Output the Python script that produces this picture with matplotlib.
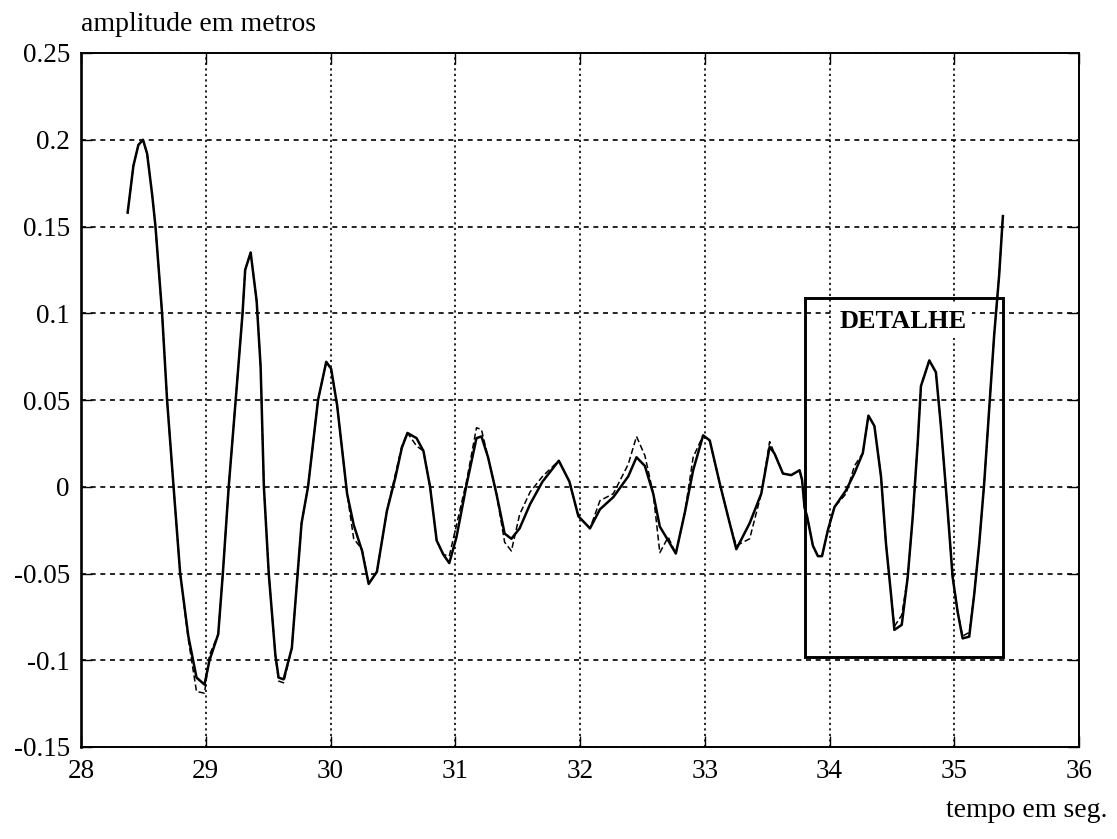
import matplotlib
matplotlib.use("Agg")
import matplotlib.pyplot as plt
from matplotlib.patches import Rectangle

# time samples (s)
tempo = [28.374, 28.42, 28.46, 28.497, 28.53, 28.571, 28.597, 28.65, 28.69, 28.742,
         28.795, 28.86, 28.926, 28.99, 29.03, 29.10, 29.137, 29.184, 29.24, 29.295,
         29.316, 29.36, 29.408, 29.44, 29.466, 29.505, 29.558, 29.584, 29.624, 29.69,
         29.768, 29.82, 29.90, 29.966, 30.005, 30.053, 30.133, 30.186, 30.253, 30.306,
         30.372, 30.452, 30.519, 30.572, 30.617, 30.69, 30.745, 30.798, 30.851, 30.904,
         30.952, 31.01, 31.09, 31.17, 31.21, 31.263, 31.33, 31.396, 31.45, 31.516,
         31.60, 31.70, 31.83, 31.915, 31.987, 32.08, 32.16, 32.267, 32.387, 32.453,
         32.52, 32.587, 32.64, 32.707, 32.768, 32.84, 32.907, 32.987, 33.04, 33.12,
         33.20, 33.253, 33.36, 33.453, 33.52, 33.56, 33.627, 33.693, 33.76, 33.78,
         33.80, 33.82, 33.867, 33.907, 33.94, 33.987, 34.04, 34.133, 34.20, 34.267,
         34.312, 34.36, 34.413, 34.453, 34.493, 34.52, 34.579, 34.627, 34.667, 34.707,
         34.733, 34.80, 34.853, 34.893, 34.947, 34.987, 35.027, 35.067, 35.12, 35.16,
         35.20, 35.24, 35.28, 35.32, 35.36, 35.39]

# measured amplitude (m), solid line
amp_medida = [0.158, 0.185, 0.197, 0.200, 0.192, 0.168, 0.150, 0.100, 0.050, 0.000,
              -0.050, -0.086, -0.110, -0.114, -0.100, -0.085, -0.050, 0.000, 0.050, 0.100,
              0.125, 0.135, 0.107, 0.069, 0.000, -0.050, -0.097, -0.110, -0.111, -0.093,
              -0.021, 0.000, 0.050, 0.072, 0.068, 0.047, -0.004, -0.022, -0.037, -0.056,
              -0.049, -0.014, 0.005, 0.0225, 0.031, 0.028, 0.0206, 0.000, -0.031, -0.039,
              -0.044, -0.029, 0.001, 0.028, 0.029, 0.017, -0.004, -0.027, -0.030, -0.024,
              -0.010, 0.003, 0.015, 0.003, -0.017, -0.024, -0.013, -0.006, 0.006, 0.017,
              0.012, -0.004, -0.023, -0.031, -0.0385, -0.015, 0.0095, 0.0296, 0.0267, 0.002,
              -0.021, -0.036, -0.021, -0.004, 0.023, 0.019, 0.0076, 0.0067, 0.0095, 0.004,
              -0.012, -0.017, -0.034, -0.040, -0.040, -0.025, -0.0117, -0.002, 0.0078, 0.0194,
              0.041, 0.035, 0.0058, -0.033, -0.062, -0.0825, -0.0796, -0.052, -0.0175, 0.0252,
              0.058, 0.0728, 0.066, 0.035, -0.0136, -0.052, -0.072, -0.0874, -0.0864, -0.062,
              -0.033, 0.002, 0.0447, 0.0874, 0.122, 0.156]

# simulated amplitude (m), dashed line
amp_simulada = [0.158, 0.185, 0.197, 0.200, 0.192, 0.168, 0.150, 0.100, 0.050, 0.000,
                -0.050, -0.088, -0.118, -0.119, -0.097, -0.085, -0.050, 0.000, 0.050, 0.100,
                0.125, 0.135, 0.107, 0.069, 0.000, -0.050, -0.097, -0.112, -0.113, -0.093,
                -0.021, 0.000, 0.050, 0.072, 0.068, 0.047, -0.004, -0.030, -0.036, -0.056,
                -0.049, -0.014, 0.007, 0.0235, 0.031, 0.0235, 0.0206, 0.000, -0.031, -0.039,
                -0.040, -0.022, 0.003, 0.034, 0.033, 0.017, -0.004, -0.032, -0.037, -0.016,
                -0.003, 0.006, 0.015, 0.003, -0.017, -0.024, -0.008, -0.004, 0.013, 0.029,
                0.018, -0.004, -0.038, -0.029, -0.0385, -0.015, 0.017, 0.0296, 0.0267, 0.002,
                -0.021, -0.034, -0.030, -0.004, 0.026, 0.019, 0.0076, 0.0067, 0.0095, 0.004,
                -0.012, -0.017, -0.034, -0.040, -0.040, -0.025, -0.0117, -0.004, 0.012, 0.0194,
                0.041, 0.035, 0.0058, -0.033, -0.062, -0.0805, -0.074, -0.052, -0.0175, 0.0252,
                0.058, 0.0728, 0.066, 0.035, -0.0136, -0.052, -0.072, -0.086, -0.084, -0.062,
                -0.033, 0.002, 0.0447, 0.0874, 0.122, 0.156]

x_ticks = [28, 29, 30, 31, 32, 33, 34, 35, 36]
y_ticks = [0.25, 0.2, 0.15, 0.1, 0.05, 0, -0.05, -0.1, -0.15]
y_tick_labels = ['0.25', '0.2', '0.15', '0.1', '0.05', '0', '-0.05', '-0.1', '-0.15']

# detail box: (t0, t1, a0, a1)
detalhe = (33.80, 35.39, -0.098, 0.109)

serif = ['Liberation Serif', 'DejaVu Serif']
plt.rcParams['font.family'] = serif

fig = plt.figure(figsize=(11.17, 8.39), dpi=100)
ax = fig.add_axes([81 / 1117, 1 - 747 / 839, (1079 - 81) / 1117, (747 - 53) / 839])

ax.plot(tempo, amp_simulada, color='black', lw=1.1, linestyle=(0, (4, 2)))
ax.plot(tempo, amp_medida, color='black', lw=1.8)

ax.set_xlim(28, 36)
ax.set_ylim(-0.15, 0.25)
ax.set_xticks(x_ticks)
ax.set_xticklabels([str(v) for v in x_ticks])
ax.set_yticks(y_ticks)
ax.set_yticklabels(y_tick_labels)

ax.xaxis.grid(True, color='black', lw=1.2, linestyle=(0, (1.3, 2.0)))
ax.yaxis.grid(True, color='black', lw=1.2, linestyle=(0, (3, 2.8)))
ax.set_axisbelow(True)

ax.tick_params(direction='in', length=8, width=1.0, top=True, right=True,
               labelsize=19.5, colors='black')
ax.tick_params(axis='x', pad=9)
ax.tick_params(axis='y', pad=8)
for side in ['left', 'right', 'top', 'bottom']:
    ax.spines[side].set_linewidth(1.4)
ax.spines['left'].set_linewidth(1.9)

t0, t1, a0, a1 = detalhe
ax.add_patch(Rectangle((t0, a0), t1 - t0, a1 - a0, fill=False,
                       edgecolor='black', lw=2.1, zorder=5))
ax.text(34.59, 0.0955, 'DETALHE', ha='center', va='center', fontsize=19,
        fontweight='bold', zorder=4,
        bbox=dict(facecolor='white', edgecolor='none', pad=4))

fig.text(81 / 1117, 1 - 31 / 839, 'amplitude em metros', ha='left', va='baseline',
         fontsize=20)
fig.text(1108 / 1117, 1 - 817 / 839, 'tempo em seg.', ha='right', va='baseline',
         fontsize=20)

fig.savefig('out.png', dpi=100)
